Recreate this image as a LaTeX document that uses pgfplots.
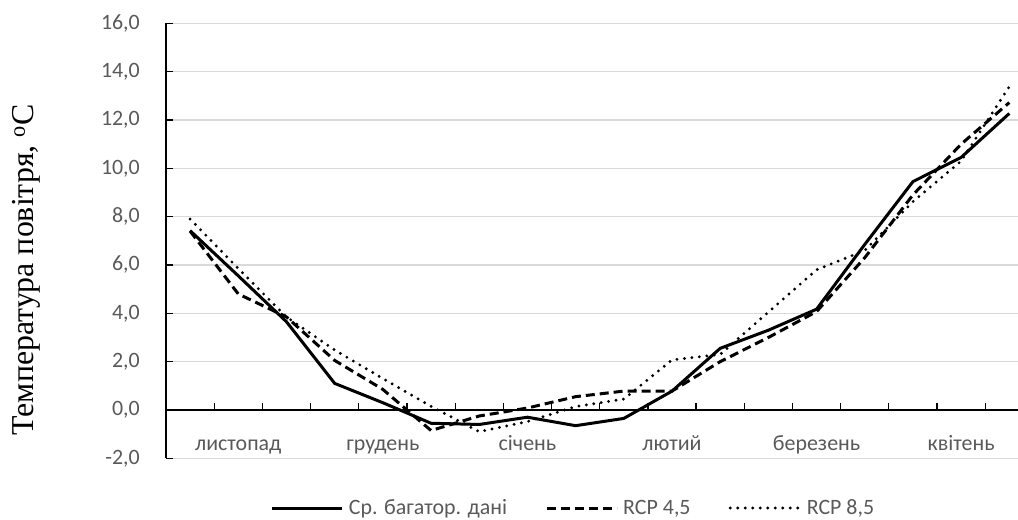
\documentclass[border=0pt]{standalone}
\usepackage{pgfplots}
\pgfplotsset{compat=1.18}
\usepackage{fontspec}
\setmainfont{Carlito}
\newfontfamily\serifcyr{Liberation Serif}
\definecolor{gridgray}{HTML}{D9D9D9}
\definecolor{labgray}{HTML}{595959}

\pgfplotstableread{
i solid dashed dotted
0  7.42  7.40  7.90
1  5.55  4.80  5.85
2  3.65  3.85  3.85
3  1.10  2.05  2.48
4  0.30  0.85  1.30
5 -0.55 -0.85  0.15
6 -0.60 -0.25 -0.90
7 -0.30  0.08 -0.48
8 -0.65  0.55  0.14
9 -0.35  0.78  0.45
10 0.78  0.78  2.07
11 2.55  2.00  2.30
12 3.30  3.00  4.05
13 4.17  4.07  5.80
14 6.85  6.30  6.60
15 9.45  8.90  8.62
16 10.45 11.00 10.30
17 12.27 12.72 13.38
}\datatable

\begin{document}
\begin{tikzpicture}
\useasboundingbox (0,0) rectangle (1018bp,520bp);
\begin{axis}[
  at={(166bp,61.7bp)}, anchor=south west,
  scale only axis, width=852bp, height=435bp,
  xmin=-0.5, xmax=17.18, ymin=-2, ymax=16,
  axis x line*=middle, axis y line*=left,
  axis line style={black, line width=1.2bp},
  hide obscured x ticks=false, hide obscured y ticks=false,
  tick align=inside,
  major tick length=7bp,
  tick style={black, line width=1.2bp},
  xtick={0.5,1.5,...,16.5},
  xticklabels={},
  extra x ticks={1,4,7,10,13,16},
  extra x tick labels={листопад,грудень,січень,лютий,березень,квітень},
  extra x tick style={major tick length=0pt, grid=none,
    tick label style={anchor=base, yshift=-41bp}},
  xticklabel style={font=\fontsize{22}{26}\selectfont, text=labgray},
  ytick={-2,0,...,16},
  ymajorgrids,
  grid style={gridgray, line width=1.2bp},
  yticklabel style={font=\fontsize{22}{26}\selectfont, text=labgray, anchor=east, inner sep=0pt, xshift=-26bp,
    /pgf/number format/.cd, fixed, fixed zerofill, precision=1, use comma, assume math mode=true},
  ylabel={\serifcyr Температура повітря, \textsuperscript{o}C},
  ylabel style={at={(axis description cs:-0.1635,0.433)}, anchor=center, font=\fontsize{32}{36}\selectfont, text=black},
  legend columns=3,
  legend style={at={(axis description cs:0.4771,-0.1143)}, anchor=center, draw=none, fill=none,
    font=\fontsize{22}{26}\selectfont, text=labgray,
    nodes={inner sep=0pt},
    /tikz/every odd column/.append style={column sep=5bp},
    /tikz/every even column/.append style={column sep=38bp}},
  legend image code/.code={\draw[#1] (0bp,0bp) -- (70bp,0bp);},
]
\addplot[black, line width=3bp, line join=round] table[x=i, y=solid] {\datatable};
\addlegendentry{Ср. багатор. дані}
\addplot[black, line width=3bp, dash pattern=on 9bp off 5bp] table[x=i, y=dashed] {\datatable};
\addlegendentry{RCP 4,5}
\addplot[black, line width=3.2bp, line cap=round, dash pattern=on 0bp off 7.5bp] table[x=i, y=dotted] {\datatable};
\addlegendentry{RCP 8,5}
\end{axis}
\end{tikzpicture}
\end{document}
